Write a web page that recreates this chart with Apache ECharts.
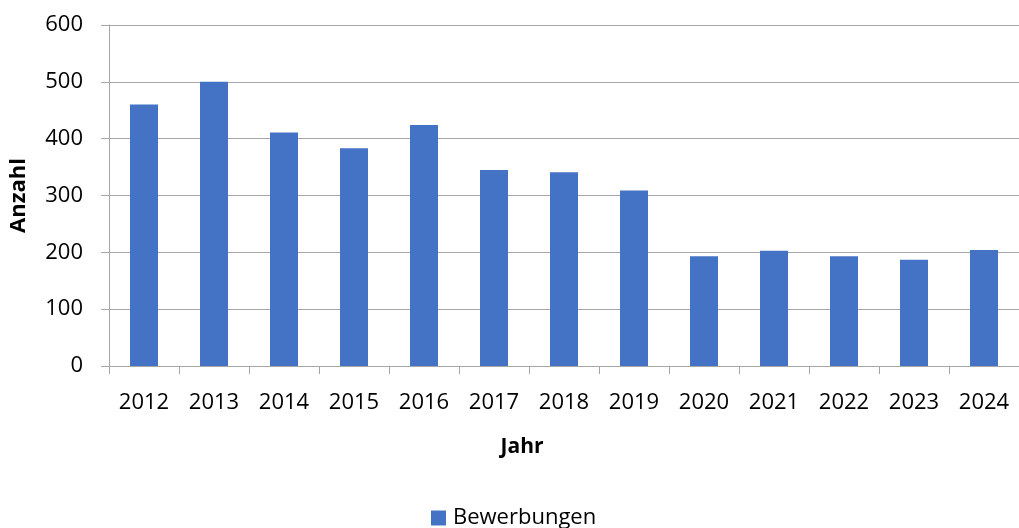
<!DOCTYPE html>
<html>
<head>
<meta charset="utf-8">
<script src="https://cdn.jsdelivr.net/npm/echarts@6/dist/echarts.min.js"></script>
<style>html,body{margin:0;padding:0;background:#fff}#c{width:1019px;height:528px}</style>
</head>
<body>
<div id="c"></div>
<script>
const categories = ['2012','2013','2014','2015','2016','2017','2018','2019','2020','2021','2022','2023','2024'];
const bewerbungen = [460, 500, 411, 383, 424, 345, 341, 309, 193, 203, 193, 187, 204];
const seriesName = 'Bewerbungen';
const xTitle = 'Jahr';
const yTitle = 'Anzahl';

const FONT = '"Open Sans", "Noto Sans", sans-serif';
const chart = echarts.init(document.getElementById('c'), null, {renderer: 'canvas'});
chart.setOption({
  animation: false,
  backgroundColor: '#fff',
  textStyle: {fontFamily: FONT},
  grid: {left: 109, right: -6, top: 25, bottom: 162, containLabel: false},
  legend: {
    data: [seriesName],
    left: 426,
    top: 502,
    itemWidth: 15, itemHeight: 15, itemGap: 5,
    icon: 'rect',
    textStyle: {fontFamily: FONT, fontSize: 22, color: '#000', padding: [0,0,0,2]}
  },
  xAxis: {
    type: 'category',
    data: categories,
    name: xTitle,
    nameLocation: 'middle',
    nameGap: 71,
    nameTextStyle: {fontFamily: FONT, fontSize: 21, fontWeight: 'bold', color: '#000', padding: [0, 84, 0, 0]},
    axisLine: {lineStyle: {color: '#a6a6a6', width: 1}},
    axisTick: {show: true, length: 8, lineStyle: {color: '#a6a6a6'}},
    axisLabel: {fontFamily: FONT, fontSize: 22, color: '#000', margin: 26}
  },
  yAxis: {
    type: 'value',
    min: 0, max: 600, interval: 100,
    name: yTitle,
    nameLocation: 'middle',
    nameGap: 79,
    nameTextStyle: {fontFamily: FONT, fontSize: 22, fontWeight: 'bold', color: '#000'},
    axisLine: {show: true, lineStyle: {color: '#a6a6a6', width: 1}},
    axisTick: {show: true, length: 8, lineStyle: {color: '#a6a6a6'}},
    splitLine: {lineStyle: {color: '#a6a6a6', width: 1}},
    axisLabel: {fontFamily: FONT, fontSize: 22, color: '#000', margin: 26}
  },
  series: [{
    name: seriesName,
    type: 'bar',
    data: bewerbungen,
    barCategoryGap: '60%',
    itemStyle: {color: '#4472c4'}
  }]
});
</script>
</body>
</html>
